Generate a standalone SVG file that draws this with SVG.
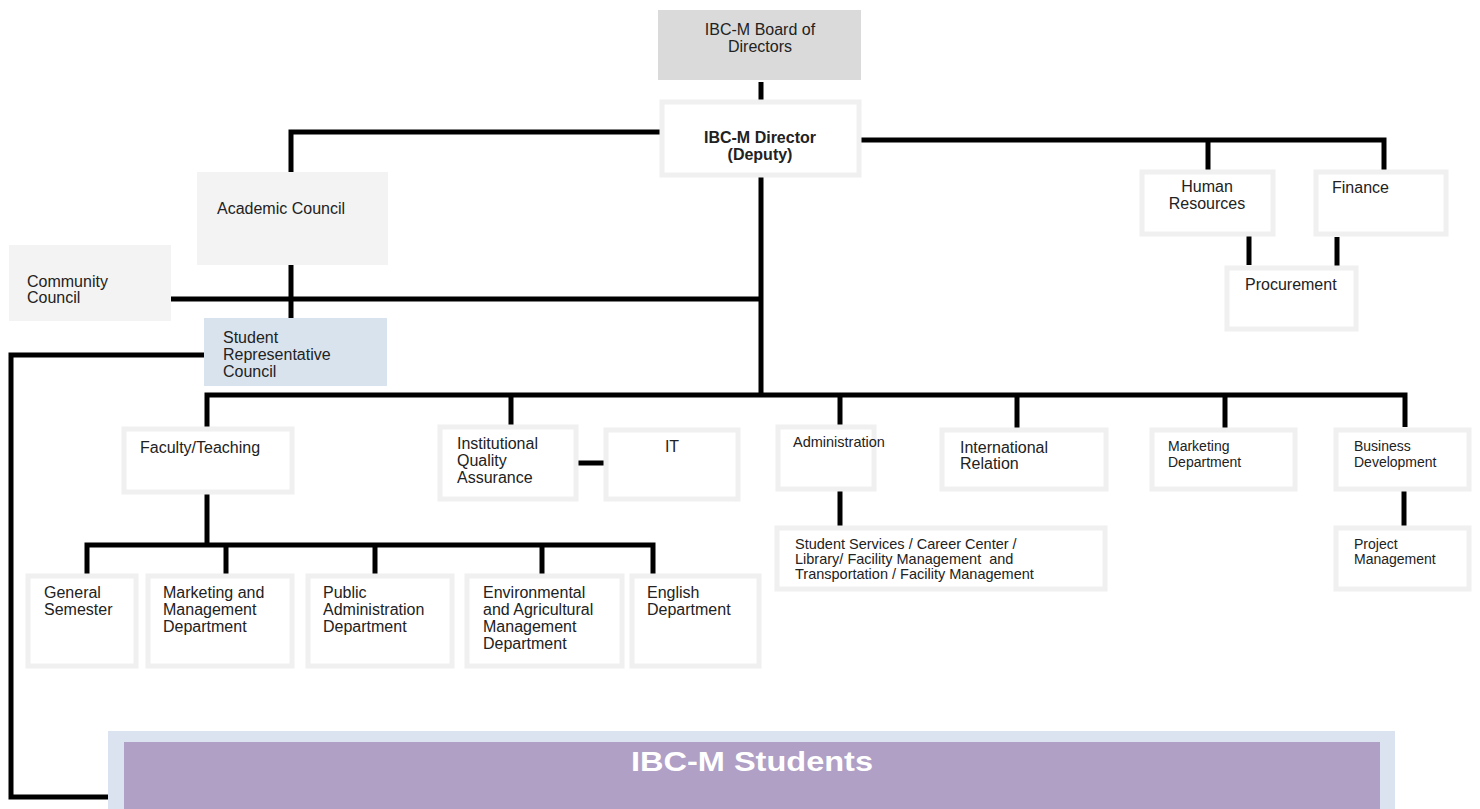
<svg xmlns="http://www.w3.org/2000/svg" width="1480" height="809" viewBox="0 0 1480 809">
<style>
text{font-family:"Liberation Sans",Arial,sans-serif;font-size:16px;fill:#222}
.xs{font-size:14.5px}
.xxs{font-size:14px}
.c{text-anchor:middle}
.b{font-weight:bold}
.box{fill:#fff;stroke:#f0f0f0;stroke-width:5}
.grey{fill:#f3f3f3}
.dark{fill:#dadada}
.blue{fill:#d9e3ee}
.ln{stroke:#000;stroke-width:5;fill:none;stroke-linecap:butt}
</style>
<rect width="1480" height="809" fill="#fff"/>
<g id="connectors">
<path class="ln" d="M761 82V102"/>
<path class="ln" d="M660 132H291V172"/>
<path class="ln" d="M291 265V318"/>
<path class="ln" d="M171 299H761"/>
<path class="ln" d="M761 177V395"/>
<path class="ln" d="M860 140H1384V170"/>
<path class="ln" d="M1208 140V170"/>
<path class="ln" d="M1249 234V265"/>
<path class="ln" d="M1337 237V267"/>
<path class="ln" d="M204 355H11V797H112"/>
<path class="ln" d="M207 427V395H1405V427"/>
<path class="ln" d="M511 395V427"/>
<path class="ln" d="M840 395V425"/>
<path class="ln" d="M1017 395V428"/>
<path class="ln" d="M1225 395V428"/>
<path class="ln" d="M577 463H610"/>
<path class="ln" d="M840 490V527"/>
<path class="ln" d="M1404 490V527"/>
<path class="ln" d="M207 493V545"/>
<path class="ln" d="M87 574V545H653V575"/>
<path class="ln" d="M226 545V575"/>
<path class="ln" d="M375 545V578"/>
<path class="ln" d="M542 545V575"/>
</g>
<g id="board"><rect class="dark" x="658" y="10" width="203" height="70"/><text class="c" x="760" y="35">IBC-M Board of</text><text class="c" x="760" y="52">Directors</text></g>
<g id="director"><rect class="box" x="662" y="102" width="197" height="73"/><text class="c b" x="760" y="143">IBC-M Director</text><text class="c b" x="760" y="160">(Deputy)</text></g>
<g id="academic"><rect class="grey" x="197" y="172" width="191" height="93"/><text x="217" y="214">Academic Council</text></g>
<g id="community"><rect class="grey" x="9" y="245" width="162" height="76"/><text x="27" y="287">Community</text><text x="27" y="303">Council</text></g>
<g id="src"><rect class="blue" x="204" y="318" width="183" height="68"/><text x="223" y="343">Student</text><text x="223" y="360">Representative</text><text x="223" y="377">Council</text></g>
<g id="hr"><rect class="box" x="1142" y="172" width="131" height="62"/><text class="c" x="1207" y="192">Human</text><text class="c" x="1207" y="209">Resources</text></g>
<g id="finance"><rect class="box" x="1316" y="172" width="130" height="62"/><text x="1332" y="193">Finance</text></g>
<g id="procurement"><rect class="box" x="1227" y="268" width="129" height="61"/><text x="1245" y="290">Procurement</text></g>
<g id="faculty"><rect class="box" x="124" y="429" width="168" height="63"/><text x="140" y="453">Faculty/Teaching</text></g>
<g id="iqa"><rect class="box" x="440" y="427" width="136" height="72"/><text x="457" y="449">Institutional</text><text x="457" y="466">Quality</text><text x="457" y="483">Assurance</text></g>
<g id="it"><rect class="box" x="606" y="430" width="132" height="69"/><text class="c" x="672" y="452">IT</text></g>
<g id="admin"><rect class="box" x="778" y="427" width="96" height="62"/><text class="xs" x="793" y="447">Administration</text></g>
<g id="intl"><rect class="box" x="942" y="430" width="164" height="59"/><text x="960" y="453">International</text><text x="960" y="469">Relation</text></g>
<g id="marketing"><rect class="box" x="1152" y="430" width="143" height="59"/><text class="xxs" x="1168" y="451">Marketing</text><text class="xxs" x="1168" y="467">Department</text></g>
<g id="busdev"><rect class="box" x="1336" y="430" width="133" height="59"/><text class="xxs" x="1354" y="451">Business</text><text class="xxs" x="1354" y="467">Development</text></g>
<g id="services"><rect class="box" x="777" y="528" width="328" height="61"/><text class="xs" x="795" y="549">Student Services / Career Center /</text><text class="xs" x="795" y="564">Library/ Facility Management&#160; and</text><text class="xs" x="795" y="579">Transportation / Facility Management</text></g>
<g id="project"><rect class="box" x="1336" y="528" width="133" height="61"/><text class="xxs" x="1354" y="549">Project</text><text class="xxs" x="1354" y="564">Management</text></g>
<g id="general"><rect class="box" x="28" y="576" width="108" height="90"/><text x="44" y="598">General</text><text x="44" y="615">Semester</text></g>
<g id="mm"><rect class="box" x="148" y="576" width="144" height="90"/><text x="163" y="598">Marketing and</text><text x="163" y="615">Management</text><text x="163" y="632">Department</text></g>
<g id="pa"><rect class="box" x="308" y="576" width="144" height="90"/><text x="323" y="598">Public</text><text x="323" y="615">Administration</text><text x="323" y="632">Department</text></g>
<g id="env"><rect class="box" x="467" y="576" width="155" height="90"/><text x="483" y="598">Environmental</text><text x="483" y="615">and Agricultural</text><text x="483" y="632">Management</text><text x="483" y="649">Department</text></g>
<g id="english"><rect class="box" x="632" y="576" width="127" height="90"/><text x="647" y="598">English</text><text x="647" y="615">Department</text></g>
<g id="students"><rect fill="#dae3ef" x="108" y="731" width="1287" height="78"/><rect fill="#b0a0c6" x="124" y="742" width="1256" height="67"/><text class="c b" x="752" y="771" textLength="242" lengthAdjust="spacingAndGlyphs" style="font-size:28px;fill:#fff">IBC-M Students</text></g>
</svg>
